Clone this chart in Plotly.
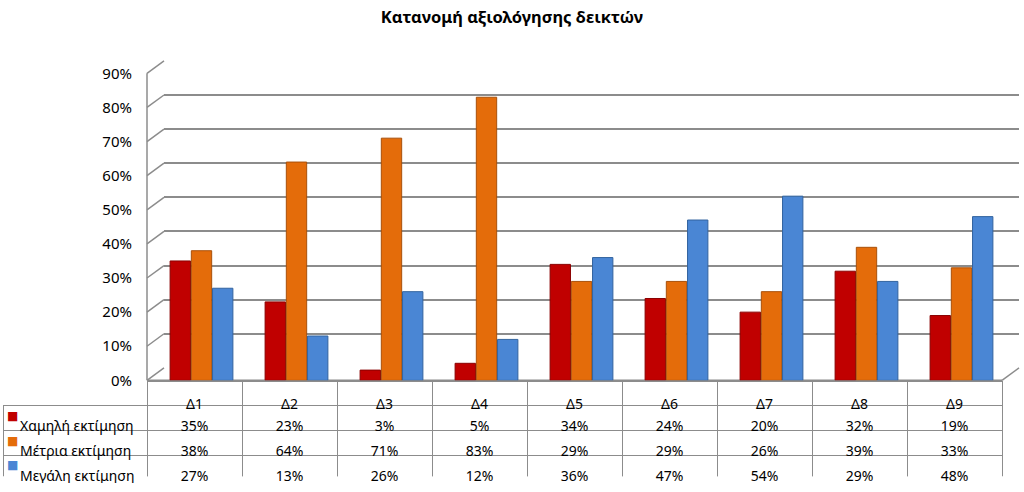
import plotly.graph_objects as go

W, H = 1024, 492

categories = ["Δ1", "Δ2", "Δ3", "Δ4", "Δ5", "Δ6", "Δ7", "Δ8", "Δ9"]
series_names = ["Χαμηλή εκτίμηση", "Μέτρια εκτίμηση", "Μεγάλη εκτίμηση"]
low = [35, 23, 3, 5, 34, 24, 20, 32, 19]
medium = [38, 64, 71, 83, 29, 29, 26, 39, 33]
high = [27, 13, 26, 12, 36, 47, 54, 29, 48]
colors = ["#C00000", "#E46C0A", "#4A86D4"]
edge_colors = ["#8A0000", "#A9500A", "#33649F"]
title_text = "Κατανομή αξιολόγησης δεικτών"
yticks = [0, 10, 20, 30, 40, 50, 60, 70, 80, 90]

FONT = "Noto Sans"
GRID = "#8C8C8C"
CLEAR = "rgba(0,0,0,0)"

# geometry in pixels
x_left, x_first, x_right = 3, 147, 1002
y_zero, y_top = 385, 65          # front plane: 0% and 90%
dx, dy = 17, 13                  # depth offset of the back wall
bar_shift = 7
ymax = 0.9


def px(x):
    return x / W


def py(y):
    return (H - y) / H


fig = go.Figure()

# back wall (gridlines only) on subplot x/y (drawn first = below)
fig.add_trace(go.Scatter(x=categories, y=[None] * len(categories), xaxis="x", yaxis="y",
                         showlegend=False, hoverinfo="skip"))

# bars on front subplot x2/y2
for name, vals, c, ec in zip(series_names, [low, medium, high], colors, edge_colors):
    fig.add_trace(go.Bar(
        x=categories, y=[v / 100 for v in vals], name=name,
        marker=dict(color=c, line=dict(color=ec, width=1)),
        xaxis="x2", yaxis="y2", showlegend=False,
        hovertemplate="%{x}: %{y:.0%}<extra>" + name + "</extra>",
    ))

# side-wall connectors and floor edges (decorative axis frame)
shapes = []
for t in yticks:
    yf = y_zero - (y_zero - y_top) * (t / 100) / ymax
    shapes.append(dict(type="line", xref="paper", yref="paper",
                       x0=px(x_first), y0=py(yf), x1=px(x_first + dx), y1=py(yf - dy),
                       line=dict(color=GRID, width=1.5), layer="below"))
shapes.append(dict(type="line", xref="paper", yref="paper",
                   x0=px(x_first), y0=py(y_zero), x1=px(x_first), y1=py(y_top),
                   line=dict(color=GRID, width=1.5), layer="below"))
shapes.append(dict(type="line", xref="paper", yref="paper",
                   x0=px(x_first), y0=py(y_zero), x1=px(x_right), y1=py(y_zero),
                   line=dict(color=GRID, width=1.5), layer="below"))
shapes.append(dict(type="line", xref="paper", yref="paper",
                   x0=px(x_right), y0=py(y_zero), x1=px(x_right + dx), y1=py(y_zero - dy),
                   line=dict(color=GRID, width=1.5), layer="below"))

# ---- data table: grid table (borders) + text table (labels/values) ----
n = len(categories)
col_w = (x_right - x_first) / n
tbl_top, head_h, row_h = 386, 24, 25.3
tbl_bottom = tbl_top + head_h + 3 * row_h

fig.add_trace(go.Table(
    domain=dict(x=[px(x_left), px(x_right)], y=[py(tbl_bottom), py(tbl_top)]),
    columnwidth=[x_first - x_left] + [col_w] * n,
    header=dict(values=[""] * (n + 1), height=head_h,
                line=dict(color=[CLEAR] + [GRID] * n, width=1),
                fill=dict(color=[CLEAR] + ["white"] * n)),
    cells=dict(values=[[""] * 3 for _ in range(n + 1)], height=row_h,
               line=dict(color=GRID, width=1), fill=dict(color="white")),
    hoverinfo="skip",
))

txt_left, txt_top, txt_head_h, txt_row_h = 12, 396, 22, 24.6
columns = [series_names] + [
    [f"{low[i]}%", f"{medium[i]}%", f"{high[i]}%"] for i in range(n)
]
fig.add_trace(go.Table(
    domain=dict(x=[px(txt_left), px(x_right)], y=[0, py(txt_top)]),
    columnwidth=[x_first - txt_left] + [col_w] * n,
    header=dict(values=[""] + categories, align="center", height=txt_head_h,
                line=dict(color=CLEAR, width=0), fill=dict(color=CLEAR),
                font=dict(family=FONT, size=14, color="#000000")),
    cells=dict(values=columns, align=["left"] + ["center"] * n, height=txt_row_h,
               line=dict(color=CLEAR, width=0), fill=dict(color=CLEAR),
               font=dict(family=FONT, size=14, color="#000000")),
))

# legend keys inside the table's first column
annotations = []
for i, c in enumerate(colors):
    yc = tbl_top + head_h + row_h * (i + 0.5)
    annotations.append(dict(text="■", x=px(12), y=py(yc), xref="paper", yref="paper",
                            showarrow=False, xanchor="center", yanchor="middle",
                            font=dict(family="DejaVu Sans", size=12, color=c)))

fig.update_layout(
    width=W, height=H,
    margin=dict(l=0, r=0, t=0, b=0),
    paper_bgcolor="white", plot_bgcolor=CLEAR,
    title=dict(text=f"<b>{title_text}</b>", x=0.5, xanchor="center",
               y=py(17), yanchor="middle",
               font=dict(family=FONT, size=16.5, color="#000000")),
    barmode="group", bargap=0.33, bargroupgap=0.04,
    xaxis=dict(domain=[px(x_first + dx), px(x_right + dx)], showticklabels=False,
               showgrid=False, zeroline=False, showline=False, fixedrange=True),
    yaxis=dict(domain=[py(y_zero - dy), py(y_top - dy)], range=[0, ymax],
               tickvals=[t / 100 for t in yticks], showticklabels=False,
               showgrid=True, gridcolor=GRID, gridwidth=1.5,
               zeroline=False, showline=False, ticks="", fixedrange=True),
    xaxis2=dict(domain=[px(x_first + bar_shift), px(x_right + bar_shift)], anchor="y2",
                showticklabels=False, showgrid=False, zeroline=False, showline=False,
                fixedrange=True),
    yaxis2=dict(domain=[py(y_zero), py(y_top)], range=[0, ymax], anchor="free",
                position=px(x_first),
                tickvals=[t / 100 for t in yticks],
                ticktext=[f"{t}%" for t in yticks],
                tickfont=dict(family=FONT, size=15, color="#000000"),
                showgrid=False, zeroline=False, showline=False, ticks="",
                ticklabelstandoff=15, fixedrange=True),
    shapes=shapes,
    annotations=annotations,
    font=dict(family=FONT),
)

fig.write_html("out.html", post_script="document.body.style.margin='0px';",
               config={"displayModeBar": False})
